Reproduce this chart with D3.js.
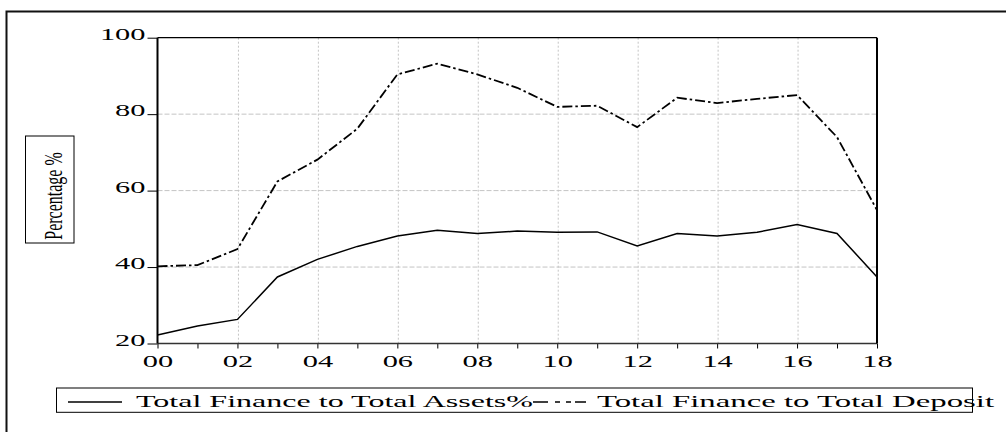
<!DOCTYPE html>
<html>
<head>
<meta charset="utf-8">
<script src="https://cdn.jsdelivr.net/npm/d3@7"></script>
<style>
  html, body { margin: 0; padding: 0; background: #fff; }
  svg { display: block; }
  text { font-family: "Liberation Serif", "Times New Roman", serif; fill: #000; }
</style>
</head>
<body>
<svg id="chart" width="1006" height="432"></svg>
<script>
// ---- data ----
const years = ["00","01","02","03","04","05","06","07","08","09","10","11","12","13","14","15","16","17","18"];
const financeToAssets = [22.2, 24.6, 26.3, 37.4, 42.0, 45.4, 48.1, 49.6, 48.8, 49.4, 49.1, 49.2, 45.5, 48.8, 48.1, 49.1, 51.1, 48.8, 37.4];
const financeToDeposit = [40.2, 40.5, 44.7, 62.4, 68.1, 76.2, 90.4, 93.2, 90.4, 86.9, 81.9, 82.2, 76.6, 84.3, 82.9, 84.0, 85.0, 74.0, 54.9];
const yTicks = [20, 40, 60, 80, 100];
const xLabelYears = ["00","02","04","06","08","10","12","14","16","18"];
const seriesNames = ["Total Finance to Total Assets%", "Total Finance to Total Deposit"];
const yAxisTitle = "Percentage %";

// ---- layout ----
const svg = d3.select("#chart");
const L = 157.5, R = 877, T = 37.7, B = 343.5;

const x = d3.scalePoint().domain(years).range([L, R]);
const y = d3.scaleLinear().domain([20, 100]).range([B, T]);

// outer frame
svg.append("rect").attr("x", 6.5).attr("y", 11.5).attr("width", 1010).attr("height", 440)
  .attr("fill", "none").attr("stroke", "#111").attr("stroke-width", 2);

// gridlines
const grid = svg.append("g");
grid.selectAll("line.h").data(yTicks.filter(d => d > 20 && d < 100)).join("line")
  .attr("x1", L).attr("x2", R).attr("y1", d => y(d)).attr("y2", d => y(d))
  .attr("stroke", "#c4c4c4").attr("stroke-width", 1).attr("stroke-dasharray", "5,2");
grid.selectAll("line.v").data(xLabelYears.filter(d => d !== "00" && d !== "18")).join("line")
  .attr("x1", d => x(d) + 1).attr("x2", d => x(d) + 1).attr("y1", T).attr("y2", B)
  .attr("stroke", "#c4c4c4").attr("stroke-width", 1).attr("stroke-dasharray", "2,2");

// y axis
const yAxis = d3.axisLeft(y).tickValues(yTicks).tickSize(10).tickFormat("");
const yg = svg.append("g").attr("transform", `translate(${L},0)`).call(yAxis);
yg.select(".domain").remove();
yg.selectAll(".tick line").attr("stroke", "#000").attr("stroke-width", 1);

svg.append("g").selectAll("text").data(yTicks).join("text")
  .attr("transform", d => `translate(145.5,${y(d) + 2.2}) scale(1.9,1)`)
  .attr("text-anchor", "end").attr("font-size", 16).text(d => d);

// x axis
const xAxis = d3.axisBottom(x).tickSize(5).tickFormat("");
const xg = svg.append("g").attr("transform", `translate(0,${B})`).call(xAxis);
xg.select(".domain").remove();
xg.selectAll(".tick line").attr("stroke", "#000").attr("stroke-width", 1);

svg.append("g").selectAll("text").data(xLabelYears).join("text")
  .attr("transform", d => `translate(${x(d) + 0.5},367.3) scale(1.9,1)`)
  .attr("text-anchor", "middle").attr("font-size", 16).text(d => d);

// plot frame
svg.append("line").attr("x1", L).attr("x2", R).attr("y1", T).attr("y2", T).attr("stroke", "#000").attr("stroke-width", 1.2);
svg.append("line").attr("x1", L).attr("x2", R).attr("y1", B).attr("y2", B).attr("stroke", "#333").attr("stroke-width", 1.5);
svg.append("line").attr("x1", L).attr("x2", L).attr("y1", T).attr("y2", B).attr("stroke", "#000").attr("stroke-width", 2);
svg.append("line").attr("x1", R).attr("x2", R).attr("y1", T).attr("y2", B).attr("stroke", "#000").attr("stroke-width", 2);

// lines
const line = d3.line().x((d, i) => x(years[i])).y(d => y(d));
svg.append("path").datum(financeToAssets).attr("d", line)
  .attr("fill", "none").attr("stroke", "#000").attr("stroke-width", 1.5);
svg.append("path").datum(financeToDeposit).attr("d", line)
  .attr("fill", "none").attr("stroke", "#000").attr("stroke-width", 1.8)
  .attr("stroke-dasharray", "10,3,2.5,3");

// y axis title box
svg.append("rect").attr("x", 25.5).attr("y", 136).attr("width", 48.5).attr("height", 107)
  .attr("fill", "none").attr("stroke", "#000").attr("stroke-width", 1);
svg.append("text")
  .attr("transform", "translate(61.5,196) rotate(-90) scale(1,1.6)")
  .attr("text-anchor", "middle").attr("font-size", 16).text(yAxisTitle);

// legend
svg.append("rect").attr("x", 56.5).attr("y", 388).attr("width", 916).attr("height", 24.3)
  .attr("fill", "none").attr("stroke", "#000").attr("stroke-width", 1);
svg.append("line").attr("x1", 68).attr("x2", 122).attr("y1", 402).attr("y2", 402)
  .attr("stroke", "#000").attr("stroke-width", 1.5);
svg.append("text").attr("x", 136).attr("y", 406.7).attr("font-size", 17)
  .attr("textLength", 397).attr("lengthAdjust", "spacingAndGlyphs").text(seriesNames[0]);
svg.append("line").attr("x1", 533).attr("x2", 586).attr("y1", 402).attr("y2", 402)
  .attr("stroke", "#000").attr("stroke-width", 1.5).attr("stroke-dasharray", "15,7,5,6,5,4,11");
svg.append("text").attr("x", 597).attr("y", 406.7).attr("font-size", 17)
  .attr("textLength", 397).attr("lengthAdjust", "spacingAndGlyphs").text(seriesNames[1]);
</script>
</body>
</html>
